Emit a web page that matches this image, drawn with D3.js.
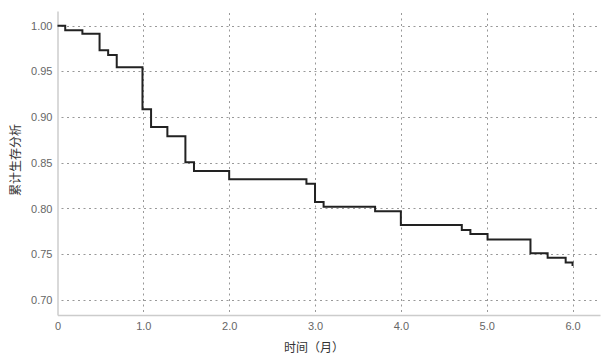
<!DOCTYPE html>
<meta charset="utf-8">
<head>
  <script src="https://d3js.org/d3.v7.min.js"></script>
  <style>
    body { margin: 0; background: #fff; }
    .tick text { font-family: "Liberation Sans", Arial, sans-serif; font-size: 11px; fill: #666; }
    .title { font-family: "Noto Sans CJK SC", sans-serif; font-size: 12px; fill: #333; }
  </style>
</head>
<body>
<div id="container"></div>
<script>
// step times (months) and cumulative survival
var times = [0, 0.09, 0.29, 0.49, 0.59, 0.69, 0.99, 1.09, 1.28, 1.49, 1.59, 2.0, 2.9, 3.0, 3.1, 3.7, 4.0, 4.71, 4.81, 5.01, 5.51, 5.71, 5.92, 6.0];
var surv  = [1.0, 0.995, 0.991, 0.973, 0.968, 0.9545, 0.9085, 0.889, 0.879, 0.8505, 0.841, 0.832, 0.827, 0.807, 0.802, 0.797, 0.782, 0.7765, 0.772, 0.766, 0.751, 0.746, 0.741, 0.737];
var xTicks = [0, 1, 2, 3, 4, 5, 6];
var yTicks = [0.70, 0.75, 0.80, 0.85, 0.90, 0.95, 1.00];

var width = 602, height = 355;
var margin = { top: 11, right: 2, bottom: 40, left: 57.5 };

var svg = d3.select("#container").append("svg")
  .attr("width", width)
  .attr("height", height);

var x = d3.scaleLinear().domain([0, 6.32]).range([margin.left, width - margin.right]);
var y = d3.scaleLinear().domain([0.6835, 1.016]).range([height - margin.bottom, margin.top]);

// grid
svg.append("g")
  .selectAll("line")
  .data(yTicks)
  .join("line")
  .attr("x1", margin.left + 4)
  .attr("x2", width - margin.right)
  .attr("y1", function (d) { return Math.round(y(d)) + 0.5; })
  .attr("y2", function (d) { return Math.round(y(d)) + 0.5; })
  .attr("stroke", "#999")
  .attr("stroke-dasharray", "2,3.5");

svg.append("g")
  .selectAll("line")
  .data(xTicks.slice(1))
  .join("line")
  .attr("x1", function (d) { return Math.round(x(d)) + 0.5; })
  .attr("x2", function (d) { return Math.round(x(d)) + 0.5; })
  .attr("y1", margin.top + 2)
  .attr("y2", height - margin.bottom)
  .attr("stroke", "#999")
  .attr("stroke-dasharray", "2,3.5");

// axes
var xAxis = svg.append("g")
  .attr("transform", "translate(0," + (height - margin.bottom) + ")")
  .call(d3.axisBottom(x).tickValues(xTicks).tickSize(0).tickPadding(7)
    .tickFormat(function (d) { return d === 0 ? "0" : d3.format(".1f")(d); }));
xAxis.select(".domain").attr("stroke", "#ccc").attr("stroke-width", 1.5);

var yAxis = svg.append("g")
  .attr("transform", "translate(" + margin.left + ",0)")
  .call(d3.axisLeft(y).tickValues(yTicks).tickSize(0).tickPadding(5).tickFormat(d3.format(".2f")));
yAxis.select(".domain").attr("stroke", "#ccc").attr("stroke-width", 1.5);

// survival curve
var pts = times.map(function (t, i) { return [t, surv[i]]; });
svg.append("path")
  .datum(pts)
  .attr("fill", "none")
  .attr("stroke", "#222")
  .attr("stroke-width", 2)
  .attr("d", d3.line()
    .x(function (d) { return x(d[0]); })
    .y(function (d) { return y(d[1]); })
    .curve(d3.curveStepAfter));

// titles
svg.append("text")
  .attr("class", "title")
  .attr("text-anchor", "middle")
  .attr("x", 314)
  .attr("y", 352)
  .text("时间（月）");

svg.append("text")
  .attr("class", "title")
  .attr("text-anchor", "middle")
  .attr("transform", "translate(20,160) rotate(-90)")
  .text("累计生存分析");
</script>
</body>
